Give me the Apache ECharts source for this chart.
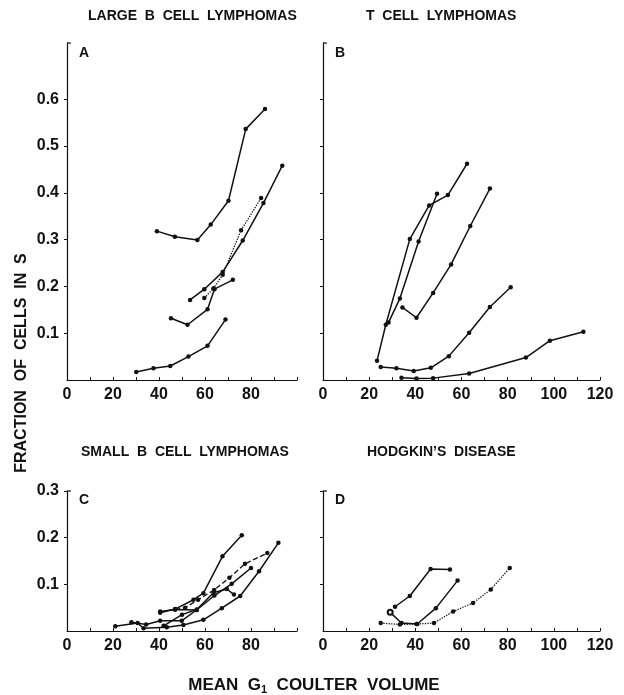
<!DOCTYPE html>
<html>
<head>
<meta charset="utf-8">
<script src="https://cdn.jsdelivr.net/npm/echarts@6/dist/echarts.min.js"></script>
<style>
html, body { margin: 0; padding: 0; background: #fff; }
#chart { width: 624px; height: 695px; }
</style>
</head>
<body>
<div id="chart"></div>
<script>
// A - large B cell lymphomas
const largeB1 = [[39.1,0.318],[46.9,0.306],[56.7,0.299],[62.5,0.332],[70.2,0.383],[77.7,0.536],[86.1,0.579]];
const largeB2 = [[53.5,0.171],[59.7,0.194],[67.7,0.231],[76.4,0.298],[85.4,0.378],[93.6,0.458]];
const largeB3 = [[59.7,0.175],[63.7,0.196],[67.7,0.225],[75.7,0.320],[84.4,0.389]];   // dotted
const largeB4 = [[45.2,0.132],[52.4,0.118],[61.1,0.151],[64.1,0.194],[72.1,0.214]];
const largeB5 = [[30.1,0.017],[37.6,0.025],[44.9,0.030],[52.8,0.050],[61.1,0.073],[68.9,0.129]];

// B - T cell lymphomas
const tCell1 = [[23.4,0.041],[27.2,0.118],[37.6,0.301],[46.0,0.373],[54.1,0.395],[62.4,0.462]];
const tCell2 = [[28.4,0.123],[33.3,0.174],[41.4,0.296],[49.4,0.398]];
const tCell3 = [[34.4,0.155],[40.5,0.133],[47.7,0.186],[55.5,0.247],[63.8,0.329],[72.3,0.409]];
const tCell4 = [[25.0,0.028],[31.8,0.025],[39.3,0.019],[46.7,0.026],[54.5,0.051],[63.3,0.101],[72.3,0.156],[81.3,0.198]];
const tCell5 = [[34.0,0.005],[40.5,0.003],[47.7,0.004],[63.3,0.014],[87.9,0.048],[98.3,0.084],[112.8,0.103]];

// C - small B cell lymphomas
const smallB1 = [[40.5,0.039],[47.0,0.047],[55.0,0.067],[59.3,0.081],[67.6,0.160],[76.0,0.205]];
const smallB2 = [[21.0,0.010],[30.7,0.017],[33.3,0.006],[43.4,0.008],[50.6,0.013],[59.3,0.024],[67.3,0.049],[75.3,0.075],[83.5,0.128],[91.9,0.189]];
const smallB3 = [[47.0,0.046],[51.4,0.050],[57.0,0.067],[64.0,0.088],[70.6,0.114],[77.4,0.144],[87.1,0.167]];  // dashed
const smallB4 = [[28.0,0.019],[34.4,0.014],[40.5,0.022],[49.9,0.022],[56.4,0.045],[64.1,0.076],[71.6,0.101],[80.0,0.135]];
const smallB5 = [[42.0,0.011],[50.0,0.035],[56.4,0.046],[63.7,0.082],[69.5,0.090],[72.6,0.078]];
const smallB6 = [[40.5,0.042],[47.0,0.046],[56.4,0.045]];

// D - Hodgkin's disease
const hodgkin1 = [[31.2,0.052],[37.6,0.075],[46.6,0.133],[55.0,0.132]];
const hodgkin2 = [[29.1,0.040],[34.0,0.017],[40.8,0.015],[48.9,0.049],[58.3,0.108]];  // first point drawn open
const hodgkin3 = [[25.0,0.017],[33.3,0.014],[40.5,0.015],[48.1,0.017],[56.4,0.042],[65.0,0.060],[72.7,0.089],[80.9,0.135]]; // dotted

const topYTicks = [0.1, 0.2, 0.3, 0.4, 0.5, 0.6];
const bottomYTicks = [0.1, 0.2, 0.3];
const xTicksShort = [0, 20, 40, 60, 80];
const xTicksLong = [0, 20, 40, 60, 80, 100, 120];

let chart = echarts.init(document.getElementById('chart'));

const ink = '#111';
const labelFont = {color: ink, fontSize: 16, fontWeight: 'bold', fontFamily: 'Liberation Sans'};

function xAxis(idx, max, shown) {
  return {
    gridIndex: idx, type: 'value', min: 0, max: max, interval: 10,
    axisLine: {show: true, lineStyle: {color: ink, width: 1.2}},
    axisTick: {show: true, inside: true, length: 3, lineStyle: {color: ink}},
    splitLine: {show: false},
    axisLabel: Object.assign({margin: 7, customValues: shown}, labelFont)
  };
}
function yAxis(idx, max, ticks, showLabels) {
  return {
    gridIndex: idx, type: 'value', min: 0, max: max,
    axisLine: {show: true, lineStyle: {color: ink, width: 1.2}},
    axisTick: {show: true, inside: false, length: 3, customValues: ticks, lineStyle: {color: ink}},
    splitLine: {show: false},
    axisLabel: Object.assign({
      show: showLabels, margin: 8, customValues: ticks,
      formatter: v => v.toFixed(1)
    }, labelFont)
  };
}
function line(idx, data, type, openFirst) {
  let pts = data.map((p, i) => (openFirst && i === 0)
    ? {value: p, symbol: 'emptyCircle', symbolSize: 5, itemStyle: {color: ink, borderColor: ink, borderWidth: 1.3}}
    : p);
  return {
    type: 'line', xAxisIndex: idx, yAxisIndex: idx, data: pts,
    symbol: 'circle', symbolSize: 4.5, silent: true, animation: false,
    itemStyle: {color: ink},
    lineStyle: {color: ink, width: type ? 1.3 : 1.5, type: type || 'solid'}
  };
}
// little bracket at the top of every y axis
function bracket(x, y) {
  return {type: 'line', shape: {x1: x, y1: y, x2: x + 4, y2: y}, style: {stroke: ink, lineWidth: 1.2}};
}
function txt(x, y, s, font) {
  return {type: 'text', left: x, top: y, style: {text: s, fill: ink, font: font}};
}

const titleFont = 'bold 14px Liberation Sans';
const letterFont = 'bold 14px Liberation Sans';

let option = {
  backgroundColor: '#fff',
  animation: false,
  grid: [
    {left: 67, top: 43, width: 230, height: 337},
    {left: 323, top: 43, width: 277, height: 337},
    {left: 67, top: 491, width: 230, height: 140},
    {left: 323, top: 491, width: 277, height: 140}
  ],
  xAxis: [
    xAxis(0, 100, xTicksShort),
    xAxis(1, 120, xTicksLong),
    xAxis(2, 100, xTicksShort),
    xAxis(3, 120, xTicksLong)
  ],
  yAxis: [
    yAxis(0, 0.72, topYTicks, true),
    yAxis(1, 0.72, topYTicks, false),
    yAxis(2, 0.3, bottomYTicks, true),
    yAxis(3, 0.3, bottomYTicks, false)
  ],
  series: [
    line(0, largeB1), line(0, largeB2), line(0, largeB3, 'dotted'), line(0, largeB4), line(0, largeB5),
    line(1, tCell1), line(1, tCell2), line(1, tCell3), line(1, tCell4), line(1, tCell5),
    line(2, smallB1), line(2, smallB2), line(2, smallB3, 'dashed'), line(2, smallB4), line(2, smallB5), line(2, smallB6),
    line(3, hodgkin1), line(3, hodgkin2, null, true), line(3, hodgkin3, 'dotted')
  ],
  graphic: [
    txt(88, 9, 'LARGE  B  CELL  LYMPHOMAS', titleFont),
    txt(366, 9, 'T  CELL  LYMPHOMAS', titleFont),
    txt(81, 445, 'SMALL  B  CELL  LYMPHOMAS', titleFont),
    txt(367, 445, 'HODGKIN\u2019S  DISEASE', titleFont),
    txt(79, 46, 'A', letterFont),
    txt(335, 46, 'B', letterFont),
    txt(79, 493, 'C', letterFont),
    txt(335, 493, 'D', letterFont),
    bracket(67, 43), bracket(323, 43), bracket(67, 491), bracket(323, 491),
    {type: 'text', x: 22, y: 363, rotation: Math.PI / 2,
      style: {text: 'FRACTION  OF  CELLS  IN  S', fill: ink, font: 'bold 16px Liberation Sans', align: 'center', verticalAlign: 'middle'}},
    {type: 'text', x: 314, y: 685,
      style: {text: 'MEAN  G{s|1}  COULTER  VOLUME', fill: ink, font: 'bold 17px Liberation Sans', align: 'center', verticalAlign: 'middle',
        rich: {s: {font: 'bold 11px Liberation Sans', fill: ink, padding: [9, 0, 0, 0]}}}}
  ]
};
chart.setOption(option);
</script>
</body>
</html>
